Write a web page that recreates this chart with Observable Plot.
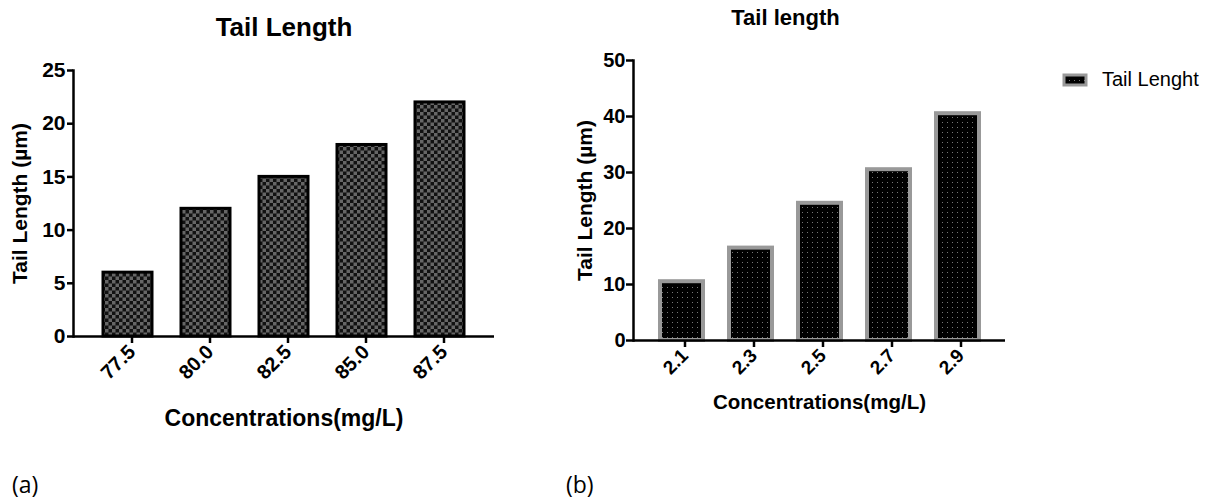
<!DOCTYPE html>
<html>
<head>
<meta charset="utf-8">
<script src="https://cdn.jsdelivr.net/npm/d3@7"></script>
<script src="https://cdn.jsdelivr.net/npm/@observablehq/plot@0.6"></script>
<style>
  html, body { margin: 0; padding: 0; background: #fff; }
  #wrap { position: relative; width: 1208px; height: 501px; overflow: hidden; background: #fff; }
  #chartA, #chartB, .lab, #legend { position: absolute; }
  #chartA { left: 0; top: 0; }
  #chartB { left: 520px; top: 0; }
  .lab { font-family: "Open Sans", "Liberation Sans", sans-serif; font-size: 23px; color: #000; top: 468px; }
  #legend { left: 1062px; top: 68px; font-family: "Liberation Sans", Arial, sans-serif; font-size: 20px; display: flex; align-items: center; }
</style>
</head>
<body>
<svg width="0" height="0" style="position:absolute">
  <defs>
    <pattern id="checker" width="7" height="7" patternUnits="userSpaceOnUse">
      <rect width="7" height="7" fill="#111"/>
      <rect width="3.5" height="3.5" fill="#666"/>
      <rect x="3.5" y="3.5" width="3.5" height="3.5" fill="#666"/>
    </pattern>
    <pattern id="dots" width="5" height="5" patternUnits="userSpaceOnUse">
      <rect width="5" height="5" fill="#000"/>
      <rect x="2" y="2" width="1" height="1" fill="#777"/>
    </pattern>
  </defs>
</svg>
<div id="wrap">
  <div id="chartA"></div>
  <div id="chartB"></div>
  <div class="lab" style="left:12px">(a)</div>
  <div class="lab" style="left:566px">(b)</div>
  <div id="legend">
    <svg width="26" height="14"><rect x="2" y="2" width="22" height="10" fill="url(#dots)" stroke="#999" stroke-width="3"/></svg>
    <span style="margin-left:14px">Tail Lenght</span>
  </div>
</div>
<script>
const concA = ["77.5", "80.0", "82.5", "85.0", "87.5"];
const tailA = [6, 12, 15, 18, 22];
const ticksA = [0, 5, 10, 15, 20, 25];

const concB = ["2.1", "2.3", "2.5", "2.7", "2.9"];
const tailB = [10.5, 16.5, 24.5, 30.5, 40.5];
const ticksB = [0, 10, 20, 30, 40, 50];

const dataA = concA.map((c, i) => ({c, v: tailA[i]}));
const dataB = concB.map((c, i) => ({c, v: tailB[i]}));

const font = "Liberation Sans, Arial, Helvetica, sans-serif";

const plotA = Plot.plot({
  width: 560, height: 440,
  marginLeft: 73, marginTop: 70, marginBottom: 104, marginRight: 66,
  style: {fontFamily: font, color: "#000", background: "transparent", overflow: "visible"},
  x: {domain: concA, paddingInner: 0.37, paddingOuter: 0.37},
  y: {domain: [0, 25]},
  marks: [
    Plot.barY(dataA, {x: "c", y: "v", fill: "url(#checker)", stroke: "#000", strokeWidth: 3}),
    Plot.ruleY([0], {stroke: "#000", strokeWidth: 2.5}),
    Plot.frame({anchor: "left", stroke: "#000", strokeWidth: 2.5}),
    Plot.axisY({ticks: ticksA, tickSize: 6, tickPadding: 2, fontSize: 21, fontWeight: "bold", label: null, strokeWidth: 2.5}),
    Plot.axisX({tickSize: 7, tickPadding: 5, tickRotate: -45, dx: 4, fontSize: 20, fontWeight: "bold", label: null, strokeWidth: 2.5}),
    Plot.text(["Tail Length"], {text: d => d, frameAnchor: "top", dy: -53, fontSize: 26, fontWeight: "bold"}),
    Plot.text(["Tail Length (µm)"], {text: d => d, frameAnchor: "left", textAnchor: "middle", dx: -53, rotate: -90, fontSize: 21, fontWeight: "bold"}),
    Plot.text(["Concentrations(mg/L)"], {text: d => d, frameAnchor: "bottom", dy: 89, fontSize: 23, fontWeight: "bold"})
  ]
});
document.getElementById("chartA").appendChild(plotA);

const plotB = Plot.plot({
  width: 688, height: 440,
  marginLeft: 113, marginTop: 60, marginBottom: 100, marginRight: 203,
  style: {fontFamily: font, color: "#000", background: "transparent", overflow: "visible"},
  x: {domain: concB, paddingInner: 0.38, paddingOuter: 0.37},
  y: {domain: [0, 50]},
  marks: [
    Plot.barY(dataB, {x: "c", y: "v", fill: "url(#dots)", stroke: "#999", strokeWidth: 4}),
    Plot.ruleY([0], {stroke: "#000", strokeWidth: 2.5}),
    Plot.frame({anchor: "left", stroke: "#000", strokeWidth: 2.5}),
    Plot.axisY({ticks: ticksB, tickSize: 7, tickPadding: 1, fontSize: 20, fontWeight: "bold", label: null, strokeWidth: 2.5}),
    Plot.axisX({tickSize: 7, tickPadding: 5, tickRotate: -45, dx: 3, fontSize: 19, fontWeight: "bold", label: null, strokeWidth: 2.5}),
    Plot.text(["Tail length"], {text: d => d, frameAnchor: "top", dx: -34, dy: -51, fontSize: 22, fontWeight: "bold"}),
    Plot.text(["Tail Length (µm)"], {text: d => d, frameAnchor: "left", textAnchor: "middle", dx: -48, rotate: -90, fontSize: 21, fontWeight: "bold"}),
    Plot.text(["Concentrations(mg/L)"], {text: d => d, frameAnchor: "bottom", dy: 68, fontSize: 20.5, fontWeight: "bold"})
  ]
});
document.getElementById("chartB").appendChild(plotB);
</script>
</body>
</html>
